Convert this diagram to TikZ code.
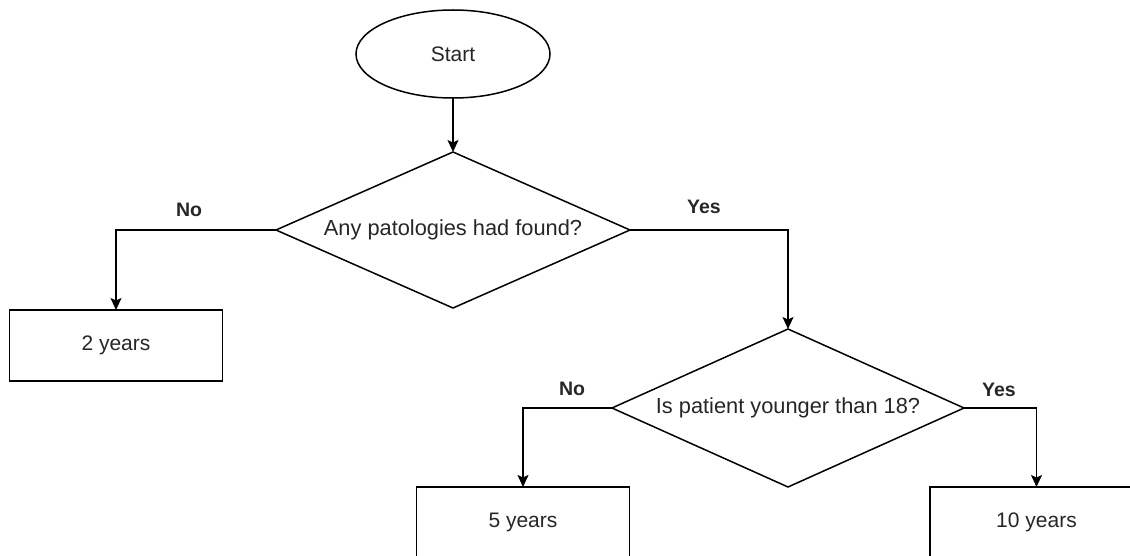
\documentclass[tikz,border=0pt]{standalone}
\usepackage{fontspec}
\setmainfont{Liberation Sans}
\usetikzlibrary{shapes.geometric,arrows.meta}
\begin{document}
\begin{tikzpicture}[x=1pt,y=-1pt,
  every node/.style={inner sep=0pt, outer sep=0pt, text=black!85},
  base/.style={draw=black, line width=1.5pt, font=\fontsize{21}{25}\selectfont},
  terminal/.style={base, ellipse, minimum width=194pt, minimum height=88pt},
  decision/.style={base, diamond, aspect=2.27, font=\fontsize{21.8}{26}\selectfont},
  outcome/.style={base, rectangle, minimum width=213pt, minimum height=71pt},
  flow/.style={draw=black, line width=1.5pt, -{Stealth[length=12pt,width=11pt,inset=2.5pt]}},
  answer/.style={font=\bfseries\fontsize{19.5}{23}\selectfont}
]
\useasboundingbox (0,0) rectangle (1130,556);

% shapes
\node[terminal] (start) at (453,54) {Start};
\node[decision, minimum width=354pt, minimum height=156pt] (q1) at (453,230) {Any patologies had found?};
\node[outcome] (two) at (116,345.5) {2 years};
\node[decision, minimum width=352pt, minimum height=158pt] (q2) at (788,408) {Is patient younger than 18?};
\node[outcome] (five) at (523,522.5) {5 years};
\node[outcome] (ten) at (1036.5,522.5) {10 years};

% connectors
\draw[flow] (start.south) -- (q1.north);
\draw[flow] (q1.west) -| (two.north);
\draw[flow] (q1.east) -| (q2.north);
\draw[flow] (q2.west) -| (five.north);
\draw[flow] (q2.east) -| (ten.north);

% branch labels
\node[answer] (no1) at (189,210) {No};
\node[answer] (yes1) at (704,207) {Yes};
\node[answer] (no2) at (572,389) {No};
\node[answer] (yes2) at (999,390) {Yes};
\end{tikzpicture}
\end{document}
